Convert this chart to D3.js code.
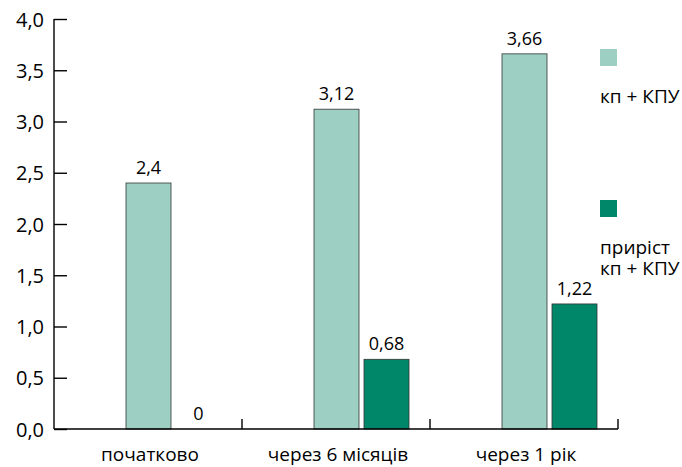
<!DOCTYPE html>
<html><head><meta charset="utf-8">
<script src="https://cdn.jsdelivr.net/npm/d3@7"></script>
<style>body{margin:0;background:#fff}svg{display:block}text{font-family:"Open Sans","Noto Sans",sans-serif;fill:#000}</style>
</head><body>
<svg id="c" width="682" height="467"></svg>
<script>
const categories = ["початково", "через 6 місяців", "через 1 рік"];
const seriesNames = ["кп + КПУ", "приріст\nкп + КПУ"];
const kpKpu = [2.4, 3.12, 3.66];
const growth = [0, 0.68, 1.22];
const valueLabels1 = ["2,4", "3,12", "3,66"];
const valueLabels2 = ["0", "0,68", "1,22"];
const yTicks = [0, 0.5, 1, 1.5, 2, 2.5, 3, 3.5, 4];
const colors = ["#9dd0c2", "#00876a"];

const svg = d3.select("#c");
const x0 = 54, x1 = 618, yB = 429, yT = 19;
const fmt = d => d.toFixed(1).replace(".", ",");

const y = d3.scaleLinear().domain([0, 4]).range([yB, yT]);
const xg = d3.scaleBand().domain(categories).range([x0, x1]).padding(0);
const bw = xg.bandwidth();
const xi = d3.scaleBand().domain([0, 1]).range([bw * 72 / 188, bw * 167 / 188]).paddingInner(0.1);

const series = [kpKpu, growth];
const labels = [valueLabels1, valueLabels2];

// bars
series.forEach((vals, s) => {
  const data = vals.map((v, i) => ({v, i}));
  const g = svg.append("g");
  g.selectAll("rect").data(data.filter(d => d.v > 0)).join("rect")
    .attr("x", d => xg(categories[d.i]) + xi(s))
    .attr("y", d => y(d.v))
    .attr("width", xi.bandwidth())
    .attr("height", d => yB - y(d.v))
    .attr("fill", colors[s])
    .attr("stroke", "#333")
    .attr("stroke-width", 0.8);
  g.selectAll("text").data(data).join("text")
    .attr("x", d => xg(categories[d.i]) + xi(s) + xi.bandwidth() / 2)
    .attr("y", d => y(d.v) - 9)
    .attr("text-anchor", "middle")
    .attr("font-size", 18)
    .text(d => labels[s][d.i]);
});

// y axis
const yAxis = svg.append("g").attr("transform", `translate(${x0},0)`)
  .call(d3.axisRight(y).tickValues(yTicks).tickSize(13).tickFormat(""));
yAxis.select(".domain").remove();
yAxis.selectAll("line").attr("stroke", "#000").attr("stroke-width", 1.4);
svg.append("line").attr("x1", x0).attr("x2", x0).attr("y1", yT).attr("y2", yB)
  .attr("stroke", "#000").attr("stroke-width", 1.4);
svg.append("g").selectAll("text").data(yTicks).join("text")
  .attr("x", 44).attr("y", d => y(d) + 7.5)
  .attr("text-anchor", "end").attr("font-size", 20)
  .text(fmt);

// x axis
svg.append("line").attr("x1", x0).attr("x2", x1).attr("y1", yB).attr("y2", yB)
  .attr("stroke", "#000").attr("stroke-width", 1.4);
svg.append("g").selectAll("line").data(categories).join("line")
  .attr("x1", d => xg(d) + bw).attr("x2", d => xg(d) + bw)
  .attr("y1", yB).attr("y2", yB - 10)
  .attr("stroke", "#000").attr("stroke-width", 1.4);
svg.append("g").selectAll("text").data(categories).join("text")
  .attr("x", d => xg(d) + bw / 2 + 2).attr("y", 461)
  .attr("text-anchor", "middle").attr("font-size", 19)
  .text(d => d);

// legend
const leg = [{y: 49, ty: [103]}, {y: 200, ty: [254, 275]}];
leg.forEach((l, s) => {
  svg.append("rect").attr("x", 600).attr("y", l.y).attr("width", 17).attr("height", 17).attr("fill", colors[s]);
  const lines = seriesNames[s].split("\n");
  lines.forEach((t, k) => svg.append("text").attr("x", 600).attr("y", l.ty[k]).attr("font-size", 19).text(t));
});
</script>
</body></html>
